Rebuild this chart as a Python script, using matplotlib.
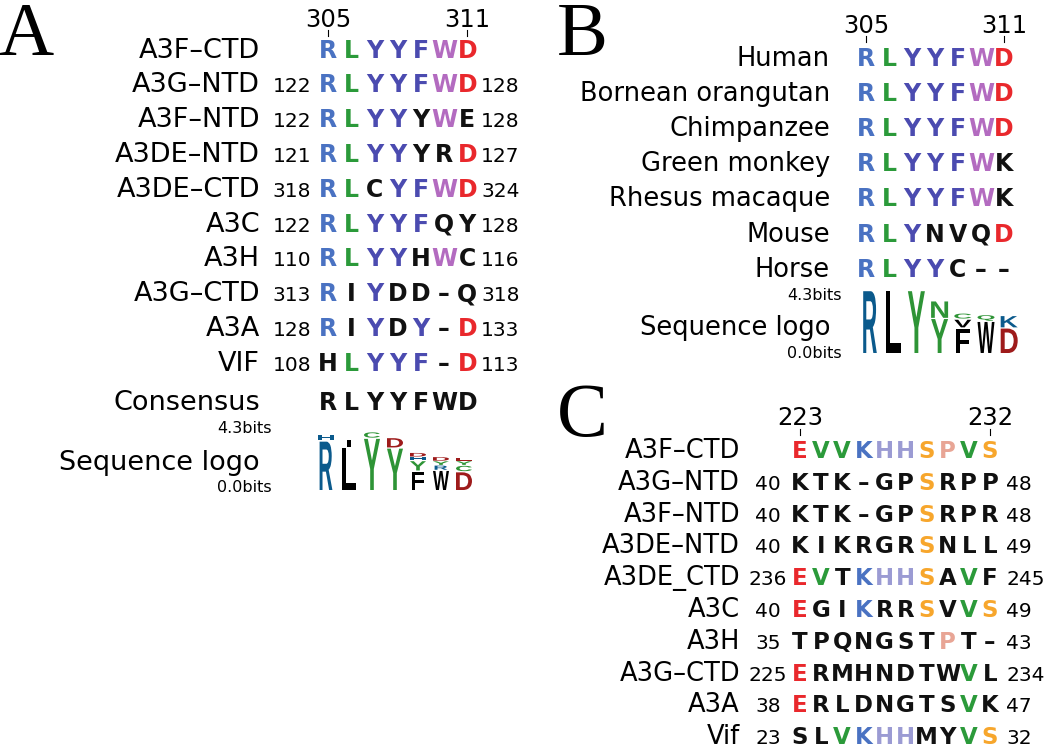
import matplotlib
matplotlib.use('Agg')
import matplotlib.pyplot as plt
from matplotlib.textpath import TextPath
from matplotlib.font_manager import FontProperties
from matplotlib.patches import PathPatch
from matplotlib.transforms import Affine2D

# ---- Panel A: A3F-CTD 305-311 against the other domains ----
a_names = ['A3F–CTD', 'A3G–NTD', 'A3F–NTD', 'A3DE–NTD', 'A3DE–CTD',
           'A3C', 'A3H', 'A3G–CTD', 'A3A', 'VIF']
a_start = ['', '122', '122', '121', '318', '122', '110', '313', '128', '108']
a_seqs = ['RLYYFWD', 'RLYYFWD', 'RLYYYWE', 'RLYYYRD', 'RLCYFWD',
          'RLYYFQY', 'RLYYHWC', 'RIYDD-Q', 'RIYDY-D', 'HLYYF-D']
a_end = ['', '128', '128', '127', '324', '128', '116', '318', '133', '113']
a_consensus = 'RLYYFWD'
a_ticks = ['305', '311']
# sequence logo, bottom to top, in bits
a_logo = [[('R', 3.55), ('H', 0.5)],
          [('L', 3.1), ('I', 0.6)],
          [('Y', 3.75), ('C', 0.45)],
          [('Y', 3.05), ('D', 0.75)],
          [('F', 1.4), ('Y', 0.75), ('H', 0.25), ('D', 0.3)],
          [('W', 1.45), ('R', 0.35), ('Y', 0.3), ('D', 0.3)],
          [('D', 1.35), ('C', 0.45), ('Y', 0.3), ('E', 0.25)]]

# ---- Panel B: species ----
b_names = ['Human', 'Bornean orangutan', 'Chimpanzee', 'Green monkey',
           'Rhesus macaque', 'Mouse', 'Horse']
b_seqs = ['RLYYFWD', 'RLYYFWD', 'RLYYFWD', 'RLYYFWK', 'RLYYFWK',
          'RLYNVQD', 'RLYYC--']
b_ticks = ['305', '311']
b_logo = [[('R', 4.3)],
          [('L', 4.3)],
          [('Y', 4.3)],
          [('Y', 2.4), ('N', 1.2)],
          [('F', 1.75), ('V', 0.6), ('C', 0.4)],
          [('W', 2.2), ('Q', 0.45)],
          [('D', 1.75), ('K', 0.85)]]

# ---- Panel C: A3F-CTD 223-232 ----
c_names = ['A3F–CTD', 'A3G–NTD', 'A3F–NTD', 'A3DE–NTD', 'A3DE_CTD',
           'A3C', 'A3H', 'A3G–CTD', 'A3A', 'Vif']
c_start = ['', '40', '40', '40', '236', '40', '35', '225', '38', '23']
c_seqs = ['EVVKHHSPVS', 'KTK-GPSRPP', 'KTK-GPSRPR', 'KIKRGRSNLL',
          'EVTKHHSAVF', 'EGIKRRSVVS', 'TPQNGSTPT-', 'ERMHNDTWVL',
          'ERLDNGTSVK', 'SLVKHHMYVS']
c_end = ['', '48', '48', '49', '245', '49', '43', '234', '47', '32']
c_ticks = ['223', '232']

# ---- styles: colour code per residue ----
pal = {'b': '#4a72c2', 'g': '#2b9a3a', 'i': '#4b4bb0', 'o': '#b36bc0',
       'r': '#e9282c', 'k': '#111111', 'h': '#9b9bd3', 'y': '#f7a62c',
       'p': '#e8a595'}
a_cols = ['bgiiior', 'bgiiior', 'bgiikok', 'bgiikkr', 'bgkiior',
          'bgiiikk', 'bgiikok', 'bkikkkk', 'bkikikr', 'kgiiikr']
b_cols = ['bgiiior', 'bgiiior', 'bgiiior', 'bgiiiok', 'bgiiiok',
          'bgikkkr', 'bgiikkk']
c_cols = ['rggbhhypgy', 'kkkkkkykkk', 'kkkkkkykkk', 'kkkkkkykkk',
          'rgkbhhykgk', 'rkkbkkykgy', 'kkkkkkkpkk', 'rkkkkkkkgk',
          'rkkkkkkkgk', 'kkgbhhkkgy']
logo_col = {}
for ch in 'RHK':
    logo_col[ch] = '#0b5a8c'
for ch in 'YCNQSTG':
    logo_col[ch] = '#2e9436'
for ch in 'DE':
    logo_col[ch] = '#9e1b1b'
# narrow glyphs in the logo
logo_w = {'I': 0.3, 'R': 0.8, 'L': 0.9, 'F': 0.8}

SANS = 'DejaVu Sans'
logo_fp = FontProperties(family='Liberation Sans', weight='bold')


def residues(ax, x0, dx, y, seq, cols, size):
    for i, ch in enumerate(seq):
        if ch == '-':
            ch = '–'
        ax.text(x0 + i * dx, y, ch, ha='center', va='baseline',
                fontsize=size, fontweight='bold', family=SANS,
                color=pal[cols[i]])


def letter(ax, ch, xc, ybot, w, h):
    # stretch one glyph into the box (xc-w/2, ybot-h) .. (xc+w/2, ybot)
    p = TextPath((0, 0), ch, size=1, prop=logo_fp)
    bb = p.get_extents()
    w = w * logo_w.get(ch, 1.0)
    tr = Affine2D().translate(-bb.x0, -bb.y0).scale(w / bb.width, -h / bb.height)
    tr = tr.translate(xc - w / 2, ybot)
    ax.add_patch(PathPatch(tr.transform_path(p), lw=0,
                           fc=logo_col.get(ch, '#000000')))


def logo(ax, x0, dx, ybot, stacks, px_bit, w):
    for i, st in enumerate(stacks):
        y = ybot
        for ch, bits in st:
            h = bits * px_bit
            # leave a thin gap between stacked glyphs
            gap = min(1.2, h * 0.15)
            letter(ax, ch, x0 + i * dx, y, w, h - gap)
            y -= h


def ticks(ax, xs, labels, ylab, y0, y1, size):
    for x, lab in zip(xs, labels):
        ax.text(x, ylab, lab, ha='center', va='baseline', fontsize=size, family=SANS)
        ax.plot([x, x], [y0, y1], color='k', lw=0.8)


fig = plt.figure(figsize=(10.5, 7.52), dpi=100)
ax = fig.add_axes([0, 0, 1, 1])
ax.set_xlim(0, 1050)
ax.set_ylim(752, 0)
ax.axis('off')

serif = dict(family='Liberation Serif', fontsize=55, va='baseline', ha='left')
ax.text(-2, 55, 'A', **serif)
ax.text(557, 55, 'B', **serif)
ax.text(557, 436, 'C', **serif)

# Panel A
ax0, adx = 328, 23.2
ticks(ax, [ax0, ax0 + 6 * adx], a_ticks, 27, 30, 36, 17.5)
for i in range(len(a_names)):
    y = 57.5 + i * 34.8
    ax.text(260, y, a_names[i], ha='right', va='baseline', fontsize=19.5, family=SANS)
    ax.text(311, y, a_start[i], ha='right', va='baseline', fontsize=14.5, family=SANS)
    residues(ax, ax0, adx, y, a_seqs[i], a_cols[i], 17)
    ax.text(481, y, a_end[i], ha='left', va='baseline', fontsize=14.5, family=SANS)
ax.text(260, 410, 'Consensus', ha='right', va='baseline', fontsize=19.5, family=SANS)
residues(ax, ax0, adx, 410, a_consensus, 'k' * 7, 17)
ax.text(272, 433, '4.3bits', ha='right', va='baseline', fontsize=11.5, family=SANS)
ax.text(260, 470, 'Sequence logo', ha='right', va='baseline', fontsize=19.5, family=SANS)
ax.text(272, 492, '0.0bits', ha='right', va='baseline', fontsize=11.5, family=SANS)
logo(ax, 326, 23.0, 490, a_logo, 60 / 4.3, 16)

# Panel B
bx0, bdx = 866, 23.0
ticks(ax, [bx0, bx0 + 6 * bdx], b_ticks, 33, 36, 42, 17.5)
for i in range(len(b_names)):
    y = 65.7 + i * 35.2
    ax.text(830, y, b_names[i], ha='right', va='baseline', fontsize=18.5, family=SANS)
    residues(ax, bx0, bdx, y, b_seqs[i], b_cols[i], 17)
ax.text(842, 300, '4.3bits', ha='right', va='baseline', fontsize=11.5, family=SANS)
ax.text(830, 335, 'Sequence logo', ha='right', va='baseline', fontsize=18.5, family=SANS)
ax.text(842, 358, '0.0bits', ha='right', va='baseline', fontsize=11.5, family=SANS)
logo(ax, 870, 23.2, 353, b_logo, 63 / 4.3, 17)

# Panel C
cx0, cdx = 800, 21.1
ticks(ax, [cx0, cx0 + 9 * cdx], c_ticks, 425, 429, 435, 17.5)
for i in range(len(c_names)):
    y = 458 + i * 31.8
    ax.text(740, y, c_names[i], ha='right', va='baseline', fontsize=18.5, family=SANS)
    ax.text(768, y, c_start[i], ha='center', va='baseline', fontsize=14.5, family=SANS)
    residues(ax, cx0, cdx, y, c_seqs[i], c_cols[i], 16.5)
    ax.text(1006, y, c_end[i], ha='left', va='baseline', fontsize=14.5, family=SANS)

fig.savefig('out.png', dpi=100)
